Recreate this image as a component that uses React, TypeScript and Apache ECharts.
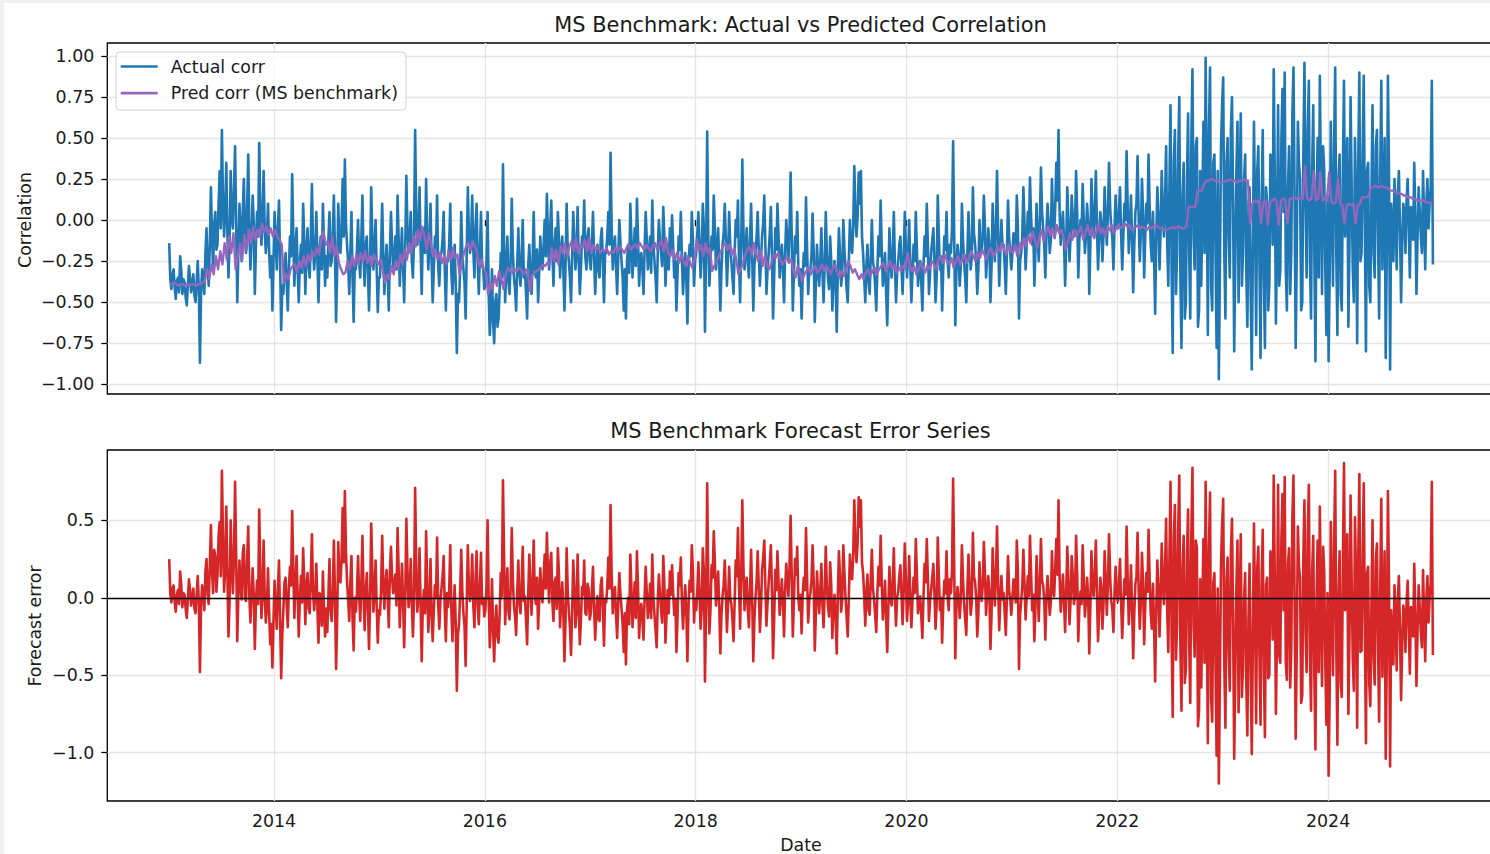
import React, { useEffect, useRef } from "react";
import * as echarts from "echarts";

// ---------- data (actual: 96 samples/yr, pred: 48 samples/yr) ----------
const START_YEAR = 2013;

const actual2013 = [
  -0.14, -0.36, -0.42, -0.33, -0.30, -0.41, -0.48, -0.37, -0.35, -0.44, -0.22, -0.31,
  -0.45, -0.36, -0.38, -0.47, -0.52, -0.40, -0.28, -0.35, -0.44, -0.39, -0.33, -0.46,
  -0.50, -0.38, -0.25, -0.42, -0.87, -0.45, -0.30, -0.36, -0.45, -0.20, -0.05, -0.28,
  -0.40, -0.15, 0.20, -0.10, -0.30, -0.02, 0.05, -0.18, -0.15, 0.10, 0.30, -0.05,
  0.55, 0.12, -0.10, 0.05, 0.35, -0.08, -0.35, -0.12, 0.30, 0.02, -0.05, 0.18,
  0.45, -0.02, -0.50, -0.20, 0.10, -0.08, -0.25, 0.05, 0.25, -0.10, -0.20, 0.08,
  0.40, -0.05, -0.30, -0.12, 0.15, -0.02, -0.45, -0.15, 0.05, -0.10, 0.47, 0.06,
  -0.15, 0.00, 0.30, -0.06, -0.20, -0.10, 0.10, -0.18, -0.35, -0.22, -0.55, -0.25,
];
const actual2014 = [
  0.05, -0.12, -0.30, -0.05, 0.12, -0.25, -0.67, -0.40, -0.45, -0.28, -0.20, -0.38,
  -0.55, -0.30, -0.10, -0.22, 0.28, -0.08, -0.40, -0.18, -0.05, -0.30, -0.50, -0.26,
  -0.15, -0.32, 0.10, -0.12, -0.45, -0.20, -0.05, -0.28, -0.35, -0.10, 0.22, -0.15,
  -0.30, -0.20, 0.05, -0.24, -0.50, -0.18, -0.10, -0.30, 0.10, -0.15, -0.40, -0.22,
  -0.35, -0.12, 0.05, -0.28, -0.25, -0.08, 0.15, -0.20, -0.62, -0.30, 0.10, -0.14,
  -0.20, -0.05, 0.25, -0.10, 0.37, -0.02, -0.15, -0.26, -0.45, -0.20, 0.05, -0.35,
  -0.62, -0.28, -0.30, -0.18, 0.00, -0.25, -0.35, -0.12, 0.15, -0.22, -0.40, -0.15,
  -0.10, -0.32, -0.55, -0.24, 0.20, -0.10, -0.30, -0.18, 0.00, -0.30, -0.56, -0.35,
];
const actual2015 = [
  -0.35, -0.18, 0.10, -0.22, -0.45, -0.28, -0.15, -0.32, -0.55, -0.20, 0.05, -0.15,
  -0.30, -0.24, -0.10, -0.30, 0.15, -0.12, -0.40, -0.22, -0.05, -0.28, -0.50, -0.18,
  0.27, -0.05, -0.20, -0.12, 0.05, -0.25, -0.35, -0.10, 0.55, 0.02, -0.15, -0.05,
  0.20, -0.18, -0.45, -0.08, -0.05, -0.20, 0.25, -0.10, -0.30, -0.15, 0.10, -0.25,
  -0.50, -0.30, -0.10, -0.18, 0.15, -0.28, -0.40, -0.22, -0.20, -0.12, 0.05, -0.30,
  -0.55, -0.24, -0.25, -0.15, 0.10, -0.32, -0.45, -0.26, -0.15, -0.40, -0.81, -0.45,
  -0.50, -0.30, 0.05, -0.22, -0.30, -0.38, -0.60, -0.20, 0.20, -0.08, -0.20, -0.12,
  0.15, -0.18, -0.35, -0.05, 0.10, -0.25, -0.45, -0.20, 0.05, -0.28, -0.30, -0.42,
];
const actual2016 = [
  -0.40, -0.25, 0.05, -0.45, -0.70, -0.55, -0.30, -0.62, -0.75, -0.50, -0.45, -0.65,
  -0.60, -0.42, -0.20, -0.35, 0.34, -0.15, -0.50, -0.30, -0.10, -0.38, -0.45, -0.25,
  0.13, -0.20, -0.35, -0.42, -0.55, -0.28, -0.05, -0.32, -0.40, -0.22, 0.00, -0.35,
  -0.30, -0.45, -0.60, -0.28, -0.15, -0.36, -0.45, -0.25, 0.05, -0.30, -0.35, -0.18,
  -0.50, -0.32, -0.10, -0.26, -0.30, -0.15, 0.00, -0.22, 0.16, -0.10, -0.30, -0.05,
  0.12, -0.20, -0.40, -0.15, -0.05, -0.25, 0.05, -0.12, -0.35, -0.20, -0.10, -0.30,
  -0.55, -0.28, 0.10, -0.18, -0.25, -0.35, -0.50, -0.22, 0.05, -0.12, -0.30, -0.20,
  0.08, -0.25, -0.45, -0.30, -0.10, -0.15, 0.12, -0.22, -0.30, -0.10, -0.05, -0.25,
];
const actual2017 = [
  -0.30, -0.15, 0.05, -0.22, -0.45, -0.28, -0.15, -0.30, -0.35, -0.12, -0.05, -0.25,
  -0.50, -0.20, -0.20, -0.10, 0.05, -0.15, 0.41, -0.05, -0.30, -0.18, -0.10, -0.28,
  -0.45, -0.22, 0.00, -0.14, -0.25, -0.35, -0.55, -0.30, -0.60, -0.25, -0.15, -0.32,
  0.10, -0.12, -0.35, -0.20, -0.05, -0.28, 0.13, -0.10, -0.40, -0.24, -0.20, -0.30,
  -0.45, -0.18, 0.05, -0.12, -0.30, -0.22, -0.10, -0.32, 0.12, -0.15, -0.25, -0.35,
  -0.50, -0.20, 0.00, -0.12, -0.20, -0.28, 0.08, -0.10, -0.40, -0.22, -0.15, -0.30,
  -0.05, -0.20, 0.03, -0.15, -0.35, -0.25, -0.55, -0.32, -0.10, -0.18, 0.05, -0.24,
  -0.45, -0.30, -0.20, -0.36, -0.63, -0.28, -0.15, -0.22, 0.05, -0.12, -0.40, -0.25,
];
const actual2018 = [
  -0.20, -0.08, 0.05, -0.15, -0.35, -0.22, 0.10, -0.05, -0.68, -0.20, 0.54, -0.10,
  -0.40, -0.25, -0.10, -0.18, 0.15, -0.05, -0.30, -0.20, -0.05, -0.28, -0.55, -0.30,
  -0.15, -0.08, 0.10, -0.12, -0.40, -0.22, 0.05, -0.15, -0.25, -0.35, -0.45, -0.20,
  0.00, -0.10, 0.12, -0.25, -0.50, -0.15, 0.37, -0.05, -0.30, -0.18, -0.05, -0.26,
  -0.35, -0.12, 0.10, -0.22, -0.55, -0.28, -0.20, -0.10, 0.05, -0.18, -0.40, -0.25,
  -0.10, -0.02, 0.15, -0.15, -0.45, -0.30, -0.20, -0.08, 0.08, -0.22, -0.60, -0.35,
  -0.05, -0.18, 0.10, -0.10, -0.35, -0.25, -0.15, -0.30, -0.50, -0.20, 0.00, -0.12,
  -0.25, -0.05, 0.29, -0.10, -0.55, -0.32, -0.10, -0.20, 0.05, -0.28, -0.40, -0.30,
];
const actual2019 = [
  -0.60, -0.35, -0.20, -0.28, 0.14, -0.18, -0.45, -0.30, -0.30, -0.22, 0.04, -0.20,
  -0.62, -0.38, -0.15, -0.30, -0.40, -0.25, -0.05, -0.32, -0.50, -0.28, 0.05, -0.20,
  -0.35, -0.42, -0.10, -0.25, -0.55, -0.35, -0.25, -0.40, -0.68, -0.30, -0.05, -0.22,
  -0.40, -0.32, 0.00, -0.18, -0.30, -0.42, -0.50, -0.25, 0.00, -0.15, -0.20, -0.05,
  0.33, 0.05, -0.10, 0.02, 0.29, 0.10, 0.30, -0.10, -0.20, -0.35, -0.50, -0.28,
  -0.15, -0.38, -0.45, -0.22, 0.00, -0.25, -0.30, -0.40, -0.55, -0.30, -0.10, -0.22,
  0.12, -0.18, -0.40, -0.30, -0.20, -0.45, -0.64, -0.35, -0.05, -0.25, -0.35, -0.20,
  0.05, -0.28, -0.50, -0.32, -0.25, -0.15, -0.10, -0.30, -0.45, -0.22, 0.05, -0.18,
];
const actual2020 = [
  -0.35, -0.22, 0.00, -0.28, -0.50, -0.32, -0.15, -0.25, 0.05, -0.18, -0.40, -0.30,
  -0.25, -0.38, -0.55, -0.28, -0.10, -0.22, 0.10, -0.15, -0.45, -0.32, -0.20, -0.12,
  -0.05, -0.25, -0.50, -0.35, 0.15, -0.10, -0.30, -0.22, -0.55, -0.30, -0.10, -0.18,
  0.05, -0.25, -0.35, -0.15, -0.20, -0.05, 0.48, -0.10, -0.64, -0.30, -0.15, -0.22,
  -0.40, -0.28, 0.10, -0.12, -0.25, -0.35, -0.50, -0.20, 0.05, -0.15, -0.30, -0.22,
  0.20, -0.08, -0.15, -0.25, -0.45, -0.30, 0.00, -0.18, -0.20, -0.10, 0.15, -0.05,
  -0.35, -0.22, -0.05, -0.15, -0.50, -0.28, 0.10, -0.12, -0.25, -0.05, 0.30, -0.08,
  -0.40, -0.20, 0.00, -0.15, -0.15, -0.28, -0.45, -0.20, 0.12, -0.10, -0.20, -0.30,
];
const actual2021 = [
  -0.20, -0.08, -0.10, -0.18, 0.15, -0.05, -0.60, -0.25, -0.20, -0.10, 0.20, -0.02,
  -0.30, -0.15, 0.05, -0.08, 0.26, 0.02, -0.15, -0.05, -0.40, -0.18, 0.10, -0.10,
  -0.25, -0.02, 0.32, 0.05, -0.05, -0.15, -0.35, -0.08, 0.10, -0.02, -0.20, -0.12,
  0.25, 0.00, -0.10, 0.08, 0.35, 0.12, 0.55, 0.05, -0.15, -0.05, 0.05, -0.12,
  -0.40, -0.15, 0.20, -0.02, -0.25, -0.10, 0.15, 0.02, -0.10, -0.05, 0.30, 0.05,
  -0.35, -0.12, 0.00, -0.08, 0.22, 0.00, -0.20, -0.10, 0.10, -0.02, -0.45, -0.15,
  0.25, 0.02, -0.10, 0.05, 0.30, -0.05, -0.30, -0.12, 0.05, -0.02, -0.25, -0.08,
  0.20, 0.00, -0.15, 0.05, 0.35, 0.08, -0.05, -0.10, -0.30, -0.05, 0.15, -0.02,
];
const actual2022 = [
  -0.05, 0.05, 0.20, -0.08, -0.30, -0.10, 0.10, 0.00, 0.42, 0.08, -0.20, -0.05,
  0.15, -0.12, -0.44, -0.15, 0.05, 0.10, 0.39, 0.02, -0.25, -0.08, 0.25, 0.05,
  -0.35, -0.10, 0.10, -0.02, 0.40, 0.08, -0.15, -0.25, 0.05, -0.20, -0.57, -0.12,
  0.20, 0.02, -0.30, -0.05, 0.30, 0.05, -0.10, 0.12, 0.45, -0.15, -0.40, 0.20,
  0.70, -0.30, -0.81, 0.35, 0.55, -0.45, -0.20, 0.40, 0.75, -0.35, -0.78, 0.15,
  0.35, -0.60, -0.50, 0.25, 0.65, -0.20, -0.60, 0.50, 0.92, -0.10, -0.30, 0.45,
  0.50, -0.65, -0.55, 0.30, -0.40, 0.10, 0.60, -0.20, 0.99, 0.20, -0.70, 0.55,
  0.93, -0.40, -0.55, 0.35, 0.40, -0.20, -0.78, 0.30, -0.97, -0.30, 0.45, 0.70,
];
const actual2023 = [
  0.87, -0.20, -0.60, 0.35, 0.50, -0.10, -0.35, 0.55, 0.75, 0.10, -0.80, -0.25,
  0.30, 0.60, -0.50, 0.15, 0.65, -0.40, -0.20, 0.25, 0.40, -0.30, -0.65, 0.10,
  0.20, -0.45, -0.91, -0.20, 0.60, 0.05, -0.70, 0.30, 0.45, -0.25, -0.84, 0.10,
  0.55, -0.35, -0.78, 0.20, 0.10, -0.55, -0.40, 0.40, 0.35, -0.15, 0.92, 0.25,
  -0.63, -0.10, 0.70, -0.40, -0.30, 0.50, 0.80, 0.05, 0.90, -0.30, -0.55, 0.20,
  0.45, -0.45, -0.20, 0.65, 0.93, 0.15, -0.78, -0.20, 0.60, 0.35, 0.25, -0.55,
  -0.50, 0.40, 0.96, 0.10, -0.35, 0.55, 0.85, -0.25, -0.60, 0.30, 0.70, -0.20,
  -0.86, 0.10, 0.50, -0.35, 0.88, 0.20, -0.45, 0.45, 0.30, -0.30, -0.70, 0.15,
];
const actual2024 = [
  -0.86, -0.30, 0.60, 0.05, -0.40, 0.45, 0.93, -0.20, -0.70, 0.25, 0.40, -0.45,
  -0.55, 0.30, 0.85, -0.10, 0.20, 0.50, -0.65, -0.15, 0.75, 0.20, -0.30, -0.50,
  0.50, 0.10, -0.75, 0.35, 0.90, -0.25, -0.20, 0.40, 0.88, -0.05, -0.80, 0.30,
  0.35, -0.40, -0.50, 0.15, 0.70, -0.20, -0.35, 0.45, 0.55, -0.10, -0.60, 0.25,
  0.85, -0.30, 0.10, 0.50, -0.84, -0.20, 0.88, 0.30, -0.91, 0.10, -0.10, -0.25,
  0.25, 0.05, -0.30, 0.15, 0.30, -0.05, -0.50, -0.15, 0.10, 0.05, -0.20, 0.12,
  0.25, -0.05, -0.35, 0.08, 0.05, -0.12, 0.35, 0.02, -0.45, -0.10, 0.20, 0.05,
  -0.10, -0.20, 0.30, 0.00, -0.30, 0.10, 0.25, -0.05, 0.10, 0.20, 0.85, -0.27,
];

const pred2013 = [
  -0.39, -0.39, -0.38, -0.39, -0.40, -0.39, -0.39, -0.40, -0.39, -0.40, -0.39, -0.39,
  -0.40, -0.39, -0.39, -0.38, -0.37, -0.30, -0.36, -0.27, -0.33, -0.22, -0.30, -0.19,
  -0.27, -0.14, -0.24, -0.10, -0.20, -0.08, -0.30, -0.22, -0.14, -0.24, -0.09, -0.18,
  -0.06, -0.14, -0.04, -0.12, -0.06, -0.10, -0.02, -0.07, -0.04, -0.09, -0.05, -0.10,
];
const pred2014 = [
  -0.06, -0.10, -0.12, -0.15, -0.38, -0.33, -0.36, -0.30, -0.28, -0.27, -0.32, -0.25,
  -0.29, -0.22, -0.28, -0.21, -0.25, -0.19, -0.22, -0.17, -0.21, -0.12, -0.07, -0.15,
  -0.13, -0.20, -0.10, -0.22, -0.16, -0.26, -0.30, -0.33, -0.32, -0.25, -0.30, -0.22,
  -0.28, -0.21, -0.27, -0.20, -0.25, -0.19, -0.26, -0.22, -0.28, -0.21, -0.24, -0.27,
];
const pred2015 = [
  -0.24, -0.30, -0.38, -0.33, -0.36, -0.28, -0.33, -0.25, -0.30, -0.21, -0.27, -0.18,
  -0.24, -0.14, -0.20, -0.10, -0.16, -0.06, -0.12, -0.04, -0.10, -0.18, -0.08, -0.15,
  -0.22, -0.18, -0.24, -0.20, -0.26, -0.22, -0.27, -0.19, -0.24, -0.17, -0.23, -0.21,
  -0.33, -0.26, -0.20, -0.16, -0.14, -0.18, -0.13, -0.16, -0.20, -0.28, -0.24, -0.30,
];
const pred2016 = [
  -0.32, -0.45, -0.38, -0.42, -0.34, -0.40, -0.31, -0.36, -0.42, -0.33, -0.29, -0.31,
  -0.32, -0.30, -0.31, -0.29, -0.30, -0.33, -0.31, -0.30, -0.43, -0.34, -0.32, -0.31,
  -0.30, -0.29, -0.27, -0.28, -0.26, -0.27, -0.17, -0.25, -0.18, -0.27, -0.16, -0.20,
  -0.14, -0.22, -0.16, -0.13, -0.19, -0.11, -0.20, -0.15, -0.17, -0.12, -0.19, -0.11,
];
const pred2017 = [
  -0.20, -0.15, -0.18, -0.16, -0.20, -0.18, -0.19, -0.17, -0.21, -0.19, -0.20, -0.17,
  -0.19, -0.16, -0.18, -0.20, -0.17, -0.15, -0.18, -0.16, -0.15, -0.17, -0.14, -0.16,
  -0.18, -0.15, -0.17, -0.19, -0.16, -0.14, -0.18, -0.15, -0.12, -0.19, -0.11, -0.20,
  -0.22, -0.18, -0.24, -0.20, -0.26, -0.21, -0.25, -0.28, -0.22, -0.26, -0.29, -0.24,
];
const pred2018 = [
  -0.12, -0.18, -0.15, -0.22, -0.14, -0.20, -0.17, -0.31, -0.28, -0.25, -0.22, -0.19,
  -0.16, -0.14, -0.18, -0.15, -0.21, -0.17, -0.24, -0.33, -0.30, -0.26, -0.22, -0.18,
  -0.16, -0.21, -0.14, -0.20, -0.25, -0.18, -0.28, -0.22, -0.27, -0.30, -0.26, -0.21,
  -0.23, -0.20, -0.24, -0.27, -0.25, -0.22, -0.26, -0.24, -0.30, -0.35, -0.28, -0.32,
];
const pred2019 = [
  -0.37, -0.33, -0.31, -0.29, -0.33, -0.30, -0.28, -0.32, -0.30, -0.27, -0.31, -0.28,
  -0.30, -0.33, -0.29, -0.27, -0.32, -0.35, -0.31, -0.34, -0.30, -0.25, -0.28, -0.32,
  -0.30, -0.33, -0.36, -0.33, -0.36, -0.32, -0.30, -0.34, -0.31, -0.29, -0.33, -0.30,
  -0.28, -0.26, -0.31, -0.29, -0.25, -0.30, -0.27, -0.32, -0.29, -0.31, -0.28, -0.30,
];
const pred2020 = [
  -0.20, -0.27, -0.31, -0.28, -0.33, -0.30, -0.26, -0.29, -0.32, -0.28, -0.30, -0.25,
  -0.27, -0.30, -0.24, -0.22, -0.26, -0.21, -0.25, -0.27, -0.23, -0.29, -0.25, -0.22,
  -0.27, -0.24, -0.21, -0.26, -0.23, -0.19, -0.22, -0.25, -0.20, -0.23, -0.18, -0.21,
  -0.24, -0.19, -0.17, -0.22, -0.20, -0.16, -0.19, -0.14, -0.18, -0.21, -0.15, -0.19,
];
const pred2021 = [
  -0.20, -0.15, -0.22, -0.14, -0.18, -0.11, -0.16, -0.09, -0.14, -0.07, -0.12, -0.17,
  -0.10, -0.06, -0.13, -0.08, -0.04, -0.09, -0.05, -0.11, -0.03, -0.08, -0.06, -0.10,
  -0.18, -0.13, -0.08, -0.12, -0.06, -0.10, -0.07, -0.04, -0.12, -0.08, -0.03, -0.09,
  -0.05, -0.11, -0.07, -0.02, -0.08, -0.05, -0.10, -0.04, -0.06, -0.03, -0.08, -0.05,
];
const pred2022 = [
  -0.03, -0.05, -0.04, -0.02, -0.04, -0.03, -0.06, -0.05, -0.04, -0.03, -0.05, -0.04,
  -0.05, -0.06, -0.04, -0.05, -0.04, -0.03, -0.04, -0.05, -0.05, -0.06, -0.06, -0.05,
  -0.05, -0.04, -0.05, -0.04, -0.04, -0.05, -0.05, -0.04, 0.08, 0.08, 0.08, 0.08,
  0.18, 0.18, 0.18, 0.22, 0.24, 0.24, 0.25, 0.25, 0.24, 0.24, 0.23, 0.23,
];
const pred2023 = [
  0.23, 0.24, 0.24, 0.25, 0.24, 0.24, 0.23, 0.24, 0.24, 0.25, 0.24, 0.24,
  -0.02, 0.10, 0.12, 0.11, 0.12, -0.02, 0.11, 0.12, -0.03, 0.10, 0.12, 0.13,
  0.12, -0.03, 0.12, 0.13, 0.12, -0.02, 0.13, 0.13, 0.14, 0.13, 0.14, 0.13,
  0.13, 0.33, 0.13, 0.12, 0.13, 0.30, 0.12, 0.13, 0.29, 0.12, 0.13, 0.12,
];
const pred2024 = [
  0.29, 0.11, 0.10, 0.11, 0.25, 0.10, 0.09, -0.02, 0.09, 0.10, 0.09, 0.10,
  -0.02, 0.09, 0.10, 0.14, 0.14, 0.14, 0.15, 0.20, 0.20, 0.21, 0.20, 0.20,
  0.21, 0.20, 0.20, 0.19, 0.18, 0.18, 0.17, 0.17, 0.16, 0.16, 0.15, 0.15,
  0.14, 0.14, 0.13, 0.13, 0.12, 0.12, 0.12, 0.12, 0.11, 0.11, 0.10, 0.10,
];

const actualByYear = [
  actual2013, actual2014, actual2015, actual2016, actual2017, actual2018,
  actual2019, actual2020, actual2021, actual2022, actual2023, actual2024,
];
const predByYear = [
  pred2013, pred2014, pred2015, pred2016, pred2017, pred2018,
  pred2019, pred2020, pred2021, pred2022, pred2023, pred2024,
];

const xTickYears = [2014, 2016, 2018, 2020, 2022, 2024];
const corrTicks = [-1, -0.75, -0.5, -0.25, 0, 0.25, 0.5, 0.75, 1];
const errTicks = [-1, -0.5, 0, 0.5];

const SERIES_NAMES = ["Actual corr", "Pred corr (MS benchmark)", "Forecast error"];

function buildData() {
  const act: number[][] = [];
  const pred: number[][] = [];
  const err: number[][] = [];
  actualByYear.forEach((vals, yi) => {
    const pv = predByYear[yi];
    pv.forEach((p, i) => pred.push([START_YEAR + yi + (i + 0.5) / pv.length, p]));
    vals.forEach((v, i) => {
      const x = START_YEAR + yi + (i + 0.5) / vals.length;
      // prediction in force at this date (held value of the matching pred sample)
      const p = pv[Math.min(pv.length - 1, Math.floor((i * pv.length) / vals.length))];
      act.push([x, v]);
      err.push([x, Math.round((v - p) * 1000) / 1000]);
    });
  });
  return { act, pred, err };
}

const FONT = "DejaVu Sans";
const minus = (s: string) => s.replace("-", "\u2212");
const LABEL_SIZE = 17.4;
const TITLE_SIZE = 20.9;

export default function App() {
  const ref = useRef<HTMLDivElement>(null);

  useEffect(() => {
    if (!ref.current) return;
    const chart = echarts.init(ref.current, undefined, { renderer: "svg" });
    const { act, pred, err } = buildData();

    const gridLine = { show: true, lineStyle: { color: "#e4e4e4", width: 1.3 } };
    const tick = (vals: number[]) => ({
      show: true,
      length: 6,
      customValues: vals,
      lineStyle: { color: "#000", width: 1.3 },
    });
    const labelStyle = { fontFamily: FONT, fontSize: LABEL_SIZE, color: "#1a1a1a" };
    const xMin = 2012.418;
    const xMax = 2025.58;

    const text = (t: string, x: number, y: number, size: number, rot = 0) => ({
      type: "text",
      x,
      y,
      rotation: rot,
      silent: true,
      style: {
        text: t,
        fontFamily: FONT,
        fontSize: size,
        fill: "#1a1a1a",
        align: "center",
        verticalAlign: "middle",
        textAlign: "center",
        textVerticalAlign: "middle",
      },
    });

    chart.setOption({
      animation: false,
      backgroundColor: "#ffffff",
      textStyle: { fontFamily: FONT },
      grid: [
        { left: 103.3, top: 40, width: 1387.3, height: 351, show: true, borderColor: "#000", borderWidth: 1.3, backgroundColor: "transparent" },
        { left: 103.3, top: 447, width: 1387.3, height: 351, show: true, borderColor: "#000", borderWidth: 1.3, backgroundColor: "transparent" },
      ],
      xAxis: [
        {
          type: "value", gridIndex: 0, min: xMin, max: xMax,
          axisLine: { show: false },
          axisTick: tick(xTickYears),
          axisLabel: { show: false, customValues: xTickYears },
          splitLine: gridLine,
        },
        {
          type: "value", gridIndex: 1, min: xMin, max: xMax,
          axisLine: { show: false },
          axisTick: tick(xTickYears),
          axisLabel: { ...labelStyle, show: true, customValues: xTickYears, margin: 11, formatter: (v: number) => String(Math.round(v)) },
          splitLine: gridLine,
        },
      ],
      yAxis: [
        {
          type: "value", gridIndex: 0, min: -1.06, max: 1.08,
          axisLine: { show: false },
          axisTick: tick(corrTicks),
          axisLabel: { ...labelStyle, show: true, customValues: corrTicks, margin: 13, formatter: (v: number) => minus(v.toFixed(2)) },
          splitLine: gridLine,
        },
        {
          type: "value", gridIndex: 1, min: -1.313, max: 0.955,
          axisLine: { show: false },
          axisTick: tick(errTicks),
          axisLabel: { ...labelStyle, show: true, customValues: errTicks, margin: 13, formatter: (v: number) => minus(v.toFixed(1)) },
          splitLine: gridLine,
        },
      ],
      legend: {
        data: [SERIES_NAMES[0], SERIES_NAMES[1]],
        orient: "vertical",
        left: 112,
        top: 49,
        icon: "rect",
        itemWidth: 37,
        itemHeight: 2.6,
        itemGap: 9.6,
        padding: [6, 8, 8.5, 4.7],
        backgroundColor: "rgba(255,255,255,0.8)",
        borderColor: "#d0d0d0",
        borderWidth: 1,
        borderRadius: 4,
        selectedMode: false,
        textStyle: { fontFamily: FONT, fontSize: LABEL_SIZE, color: "#1a1a1a", padding: [0, 0, 0, 8] },
      },
      graphic: [
        text("MS Benchmark: Actual vs Predicted Correlation", 796.5, 22, TITLE_SIZE),
        text("MS Benchmark Forecast Error Series", 796.5, 428, TITLE_SIZE),
        text("Correlation", 20.5, 217, LABEL_SIZE, Math.PI / 2),
        text("Forecast error", 31, 623, LABEL_SIZE, Math.PI / 2),
        text("Date", 797, 841.5, LABEL_SIZE),
      ],
      series: [
        {
          name: SERIES_NAMES[0], type: "line", xAxisIndex: 0, yAxisIndex: 0,
          data: act, symbol: "none", showSymbol: false, z: 2,
          lineStyle: { color: "#1f77b4", width: 2.6, join: "round" },
          itemStyle: { color: "#1f77b4" },
        },
        {
          name: SERIES_NAMES[1], type: "line", xAxisIndex: 0, yAxisIndex: 0,
          data: pred, symbol: "none", showSymbol: false, z: 3,
          lineStyle: { color: "#9467bd", width: 2.4, join: "round" },
          itemStyle: { color: "#9467bd" },
        },
        {
          name: SERIES_NAMES[2], type: "line", xAxisIndex: 1, yAxisIndex: 1,
          data: err, symbol: "none", showSymbol: false, z: 2,
          lineStyle: { color: "#d62728", width: 2.6, join: "round" },
          itemStyle: { color: "#d62728" },
          markLine: {
            silent: true,
            symbol: ["none", "none"],
            label: { show: false },
            lineStyle: { color: "#000", width: 1.3, type: "solid" },
            data: [{ yAxis: 0 }],
          },
        },
      ],
    });

    return () => chart.dispose();
  }, []);

  return (
    <div style={{ position: "fixed", left: 0, top: 0, width: 1490, height: 854, overflow: "hidden", background: "#f0f0f0" }}>
      <div ref={ref} style={{ position: "absolute", left: 4, top: 3, width: 1500, height: 860, background: "#fff" }} />
    </div>
  );
}
